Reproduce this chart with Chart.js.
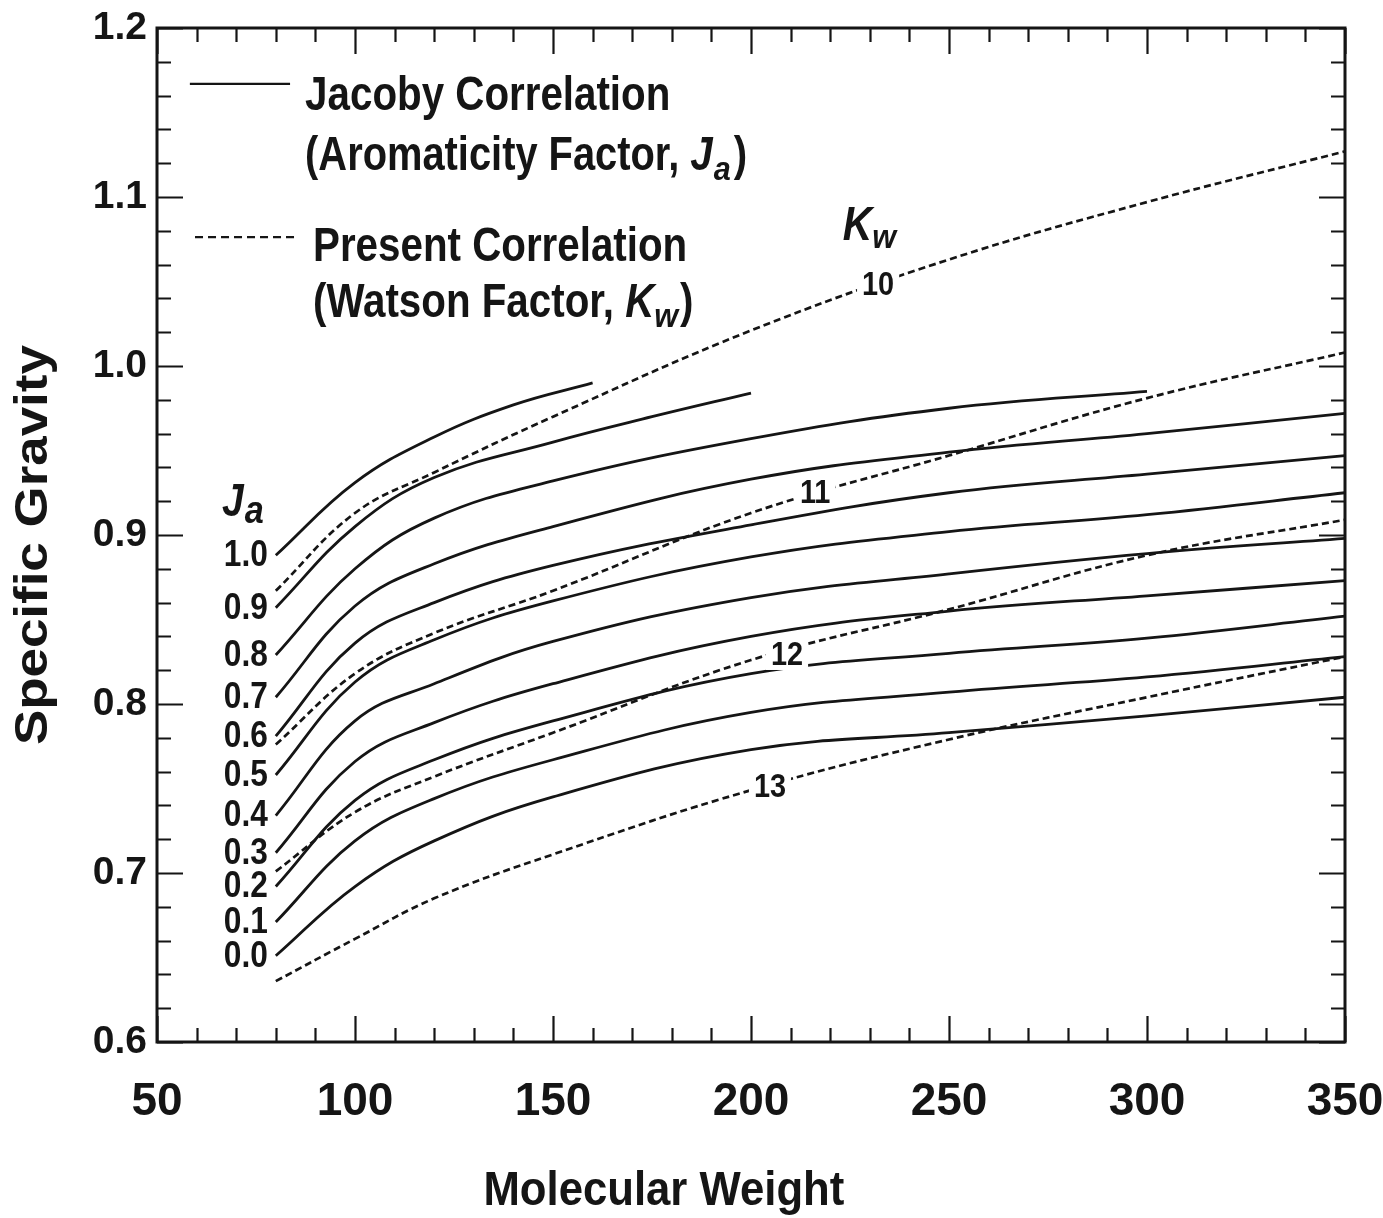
<!DOCTYPE html>
<html>
<head>
<meta charset="utf-8">
<script src="https://cdn.jsdelivr.net/npm/chart.js@4.4.1/dist/chart.umd.min.js"></script>
<style>
html,body{margin:0;padding:0;background:#fff;}
canvas{display:block;}
</style>
</head>
<body>
<canvas id="c" width="1383" height="1218"></canvas>
<script>
// ---------------- DATA ----------------
// Jacoby correlation, aromaticity factor Ja (solid curves)
const ja10MW = [80, 100, 120, 140, 160];
const ja10SG = [0.888, 0.931, 0.958, 0.977, 0.990];
const ja09MW = [80, 100, 120, 150, 175, 200];
const ja09SG = [0.857, 0.905, 0.934, 0.955, 0.970, 0.984];
const ja08MW = [80, 100, 120, 150, 200, 250, 300];
const ja08SG = [0.829, 0.880, 0.910, 0.932, 0.957, 0.975, 0.985];
const ja07MW = [80, 100, 120, 150, 200, 250, 300, 350];
const ja07SG = [0.804, 0.858, 0.883, 0.905, 0.933, 0.949, 0.960, 0.972];
const ja06MW = [80, 100, 120, 150, 200, 250, 300, 350];
const ja06SG = [0.781, 0.836, 0.860, 0.882, 0.906, 0.925, 0.936, 0.947];
const ja05MW = [80, 100, 120, 150, 200, 250, 300, 350];
const ja05SG = [0.758, 0.813, 0.838, 0.861, 0.887, 0.902, 0.912, 0.925];
const ja04MW = [80, 100, 120, 150, 200, 250, 300, 350];
const ja04SG = [0.734, 0.790, 0.812, 0.837, 0.863, 0.877, 0.889, 0.898];
const ja03MW = [80, 100, 120, 150, 200, 250, 300, 350];
const ja03SG = [0.712, 0.766, 0.789, 0.812, 0.840, 0.855, 0.864, 0.873];
const ja02MW = [80, 100, 120, 150, 200, 250, 300, 350];
const ja02SG = [0.692, 0.743, 0.767, 0.790, 0.818, 0.830, 0.839, 0.852];
const ja01MW = [80, 100, 120, 150, 200, 250, 300, 350];
const ja01SG = [0.671, 0.719, 0.744, 0.767, 0.795, 0.807, 0.816, 0.828];
const ja00MW = [80, 100, 120, 150, 200, 250, 300, 350];
const ja00SG = [0.651, 0.692, 0.719, 0.745, 0.773, 0.783, 0.793, 0.804];

// Present correlation, Watson factor Kw (dashed curves)
const kw10MW = [80, 100, 120, 150, 200, 250, 300, 350];
const kw10SG = [0.867, 0.913, 0.937, 0.970, 1.021, 1.063, 1.097, 1.127];
const kw11MW = [80, 100, 120, 150, 200, 250, 300, 350];
const kw11SG = [0.776, 0.818, 0.842, 0.867, 0.913, 0.947, 0.981, 1.008];
const kw12MW = [80, 100, 120, 150, 200, 250, 300, 350];
const kw12SG = [0.701, 0.736, 0.757, 0.783, 0.826, 0.856, 0.888, 0.909];
const kw13MW = [80, 100, 120, 150, 200, 250, 300, 350];
const kw13SG = [0.636, 0.661, 0.685, 0.711, 0.749, 0.779, 0.804, 0.828];

const jaLabels = ['1.0','0.9','0.8','0.7','0.6','0.5','0.4','0.3','0.2','0.1','0.0'];
const kwLabels = ['10','11','12','13'];
const xTickValues = [50, 100, 150, 200, 250, 300, 350];
const yTickLabels = ['0.6','0.7','0.8','0.9','1.0','1.1','1.2'];
const xTitle = 'Molecular Weight';
const yTitle = 'Specific Gravity';

// ---------------- build ----------------
const jaSeries = [
  [ja10MW, ja10SG],[ja09MW, ja09SG],[ja08MW, ja08SG],[ja07MW, ja07SG],
  [ja06MW, ja06SG],[ja05MW, ja05SG],[ja04MW, ja04SG],[ja03MW, ja03SG],
  [ja02MW, ja02SG],[ja01MW, ja01SG],[ja00MW, ja00SG]
];
const kwSeries = [[kw10MW, kw10SG],[kw11MW, kw11SG],[kw12MW, kw12SG],[kw13MW, kw13SG]];
const toPts = (mw, sg) => mw.map((x, i) => ({x: x, y: sg[i]}));

const INK = '#151515';
const SANS = "'Liberation Sans', Arial, Helvetica, sans-serif";

const datasets = [];
jaSeries.forEach((s, i) => datasets.push({
  label: 'Ja ' + jaLabels[i], data: toPts(s[0], s[1]),
  borderColor: INK, borderWidth: 2.8, pointRadius: 0, fill: false,
  tension: 0.4
}));
kwSeries.forEach((s, i) => datasets.push({
  label: 'Kw ' + kwLabels[i], data: toPts(s[0], s[1]),
  borderColor: INK, borderWidth: 2.7, borderDash: [7, 4], pointRadius: 0, fill: false,
  tension: 0.4
}));

// annotation anchors in data units (MW, SG)
const legendCfg = {
  solidLine: {x0: 58.3, x1: 83.6, y: 1.1669},
  dashLine: {x0: 59.6, x1: 84.8, y: 1.0763},
  text1: {x: 87.4, y: 1.1515},
  text2: {x: 87.4, y: 1.1160},
  text3: {x: 89.4, y: 1.0623},
  text4: {x: 89.4, y: 1.0287}
};
const kwHeader = {x: 223.2, y: 1.0746};
const jaHeader = {x: 66.4, y: 0.9110};
const kwLabelPos = [[232.1, 1.0479],[216.2, 0.9249],[209.1, 0.8290],[204.8, 0.7509]];
const xTitlePos = {x: 178.0, y: 0.5036};
const yTitlePos = {x: 22.2, y: 0.894};

function drawPieces(ctx, parts, x, y){
  let cx = x;
  parts.forEach(p => {
    ctx.save();
    ctx.font = p.font;
    const w = ctx.measureText(p.t).width * p.sx;
    ctx.translate(cx, y + (p.dy || 0));
    ctx.scale(p.sx, 1);
    ctx.textAlign = 'left';
    ctx.textBaseline = 'alphabetic';
    ctx.fillText(p.t, 0, 0);
    ctx.restore();
    cx += w + (p.gap || 0);
  });
}

const annot = {
  id: 'annot',
  beforeDraw(chart){
    const c = chart.ctx; c.save(); c.fillStyle = '#fff';
    c.fillRect(0, 0, chart.width, chart.height); c.restore();
  },
  afterDatasetsDraw(chart){
    const c = chart.ctx, xs = chart.scales.x, ys = chart.scales.y;
    const X = v => xs.getPixelForValue(v), Y = v => ys.getPixelForValue(v);
    c.save();
    c.fillStyle = INK; c.strokeStyle = INK;
    const B = 'bold 48px ' + SANS, BI = 'italic bold 48px ' + SANS, BS = 'italic bold 34px ' + SANS;

    // legend lines
    c.lineWidth = 2.2; c.setLineDash([]);
    c.beginPath(); c.moveTo(X(legendCfg.solidLine.x0), Y(legendCfg.solidLine.y));
    c.lineTo(X(legendCfg.solidLine.x1), Y(legendCfg.solidLine.y)); c.stroke();
    c.setLineDash([8, 5]);
    c.beginPath(); c.moveTo(X(legendCfg.dashLine.x0), Y(legendCfg.dashLine.y));
    c.lineTo(X(legendCfg.dashLine.x1), Y(legendCfg.dashLine.y)); c.stroke();
    c.setLineDash([]);

    drawPieces(c, [{t: 'Jacoby Correlation', font: B, sx: 0.84}], X(legendCfg.text1.x), Y(legendCfg.text1.y));
    drawPieces(c, [
      {t: '(Aromaticity Factor, ', font: B, sx: 0.83},
      {t: 'J', font: BI, sx: 0.84, gap: 1},
      {t: 'a', font: BS, sx: 0.9, dy: 10, gap: 3},
      {t: ')', font: B, sx: 0.84}
    ], X(legendCfg.text2.x), Y(legendCfg.text2.y));
    drawPieces(c, [{t: 'Present Correlation', font: B, sx: 0.84}], X(legendCfg.text3.x), Y(legendCfg.text3.y));
    drawPieces(c, [
      {t: '(Watson Factor, ', font: B, sx: 0.84},
      {t: 'K', font: BI, sx: 0.84, gap: 0},
      {t: 'w', font: BS, sx: 0.9, dy: 10, gap: 2},
      {t: ')', font: B, sx: 0.84}
    ], X(legendCfg.text4.x), Y(legendCfg.text4.y));

    // Kw header
    drawPieces(c, [
      {t: 'K', font: 'italic bold 48px ' + SANS, sx: 0.85, gap: 0},
      {t: 'w', font: 'italic bold 34px ' + SANS, sx: 0.9, dy: 8}
    ], X(kwHeader.x), Y(kwHeader.y));
    // Ja header
    drawPieces(c, [
      {t: 'J', font: 'italic bold 46px ' + SANS, sx: 0.85, gap: 1},
      {t: 'a', font: 'italic bold 38px ' + SANS, sx: 0.9, dy: 7}
    ], X(jaHeader.x), Y(jaHeader.y));

    // Kw curve labels with white knock-out
    const LF = 'bold 34px ' + SANS;
    kwLabels.forEach((t, i) => {
      const px = X(kwLabelPos[i][0]), py = Y(kwLabelPos[i][1]);
      c.font = LF;
      const w = c.measureText(t).width * 0.85;
      c.fillStyle = '#fff';
      c.fillRect(px - w / 2 - 5, py - 15, w + 10, 30);
      c.fillStyle = INK;
      c.save(); c.translate(px, py); c.scale(0.85, 1);
      c.textAlign = 'center'; c.textBaseline = 'middle';
      c.fillText(t, 0, 1); c.restore();
    });

    // Ja curve labels, just left of each curve start
    jaSeries.forEach((s, i) => {
      const px = X(s[0][0]) - 8, py = Y(s[1][0]);
      c.save(); c.font = 'bold 36px ' + SANS;
      c.translate(px, py); c.scale(0.88, 1);
      c.textAlign = 'right'; c.textBaseline = 'middle';
      c.fillText(jaLabels[i], 0, 1); c.restore();
    });
    c.restore();
  },
  afterDraw(chart){
    const c = chart.ctx, a = chart.chartArea, xs = chart.scales.x, ys = chart.scales.y;
    const X = v => xs.getPixelForValue(v), Y = v => ys.getPixelForValue(v);
    c.save();
    c.strokeStyle = INK; c.fillStyle = INK; c.setLineDash([]);
    c.lineWidth = 3;
    c.strokeRect(a.left, a.top, a.right - a.left, a.bottom - a.top);
    c.lineWidth = 2.2;
    c.beginPath();
    for (let v = 50; v <= 350; v += 10) {
      const px = Math.round(X(v)) + 0.5;
      const len = (v % 50 === 0) ? 26 : 14;
      c.moveTo(px, a.bottom); c.lineTo(px, a.bottom - len);
      c.moveTo(px, a.top); c.lineTo(px, a.top + len);
    }
    for (let k = 30; k <= 60; k++) {
      const py = Math.round(Y(k / 50)) + 0.5;
      const len = (k % 5 === 0) ? 26 : 14;
      c.moveTo(a.left, py); c.lineTo(a.left + len, py);
      c.moveTo(a.right, py); c.lineTo(a.right - len, py);
    }
    c.stroke();

    // axis titles
    c.font = 'bold 48px ' + SANS;
    c.textBaseline = 'alphabetic'; c.textAlign = 'center';
    c.save(); c.translate(X(xTitlePos.x), Y(xTitlePos.y)); c.scale(0.91, 1);
    c.fillText(xTitle, 0, 0); c.restore();
    c.font = 'bold 46px ' + SANS;
    c.save(); c.translate(X(yTitlePos.x), Y(yTitlePos.y)); c.rotate(-Math.PI / 2); c.scale(1.15, 1);
    c.fillText(yTitle, 0, 0); c.restore();
    c.restore();
  }
};

function zeroPad(s){ s.paddingLeft = 0; s.paddingRight = 0; s.paddingTop = 0; s.paddingBottom = 0; }

new Chart(document.getElementById('c'), {
  type: 'line',
  data: {datasets: datasets},
  plugins: [annot],
  options: {
    responsive: false,
    animation: false,
    devicePixelRatio: 1,
    layout: {padding: {top: 28, right: 38, left: 0, bottom: 0}},
    plugins: {legend: {display: false}, tooltip: {enabled: false}},
    scales: {
      x: {
        type: 'linear', min: 50, max: 350,
        afterFit(s){ s.height = 176; zeroPad(s); },
        afterBuildTicks(s){ s.ticks = xTickValues.map(v => ({value: v})); },
        grid: {display: false, drawTicks: false},
        border: {display: false},
        ticks: {
          padding: 33, color: INK, maxRotation: 0,
          font: {family: SANS, size: 46, weight: 'bold'},
          callback: v => String(v)
        },
        title: {display: false, text: xTitle}
      },
      y: {
        type: 'linear', min: 0.6, max: 1.2,
        afterFit(s){ s.width = 157; zeroPad(s); },
        afterBuildTicks(s){ s.ticks = yTickLabels.map(t => ({value: parseFloat(t)})); },
        grid: {display: false, drawTicks: false},
        border: {display: false},
        ticks: {
          padding: 10, color: INK,
          font: {family: SANS, size: 39, weight: 'bold'},
          callback: v => yTickLabels.find(t => Math.abs(parseFloat(t) - v) < 1e-6) || ''
        },
        title: {display: false, text: yTitle}
      }
    }
  }
});
</script>
</body>
</html>
